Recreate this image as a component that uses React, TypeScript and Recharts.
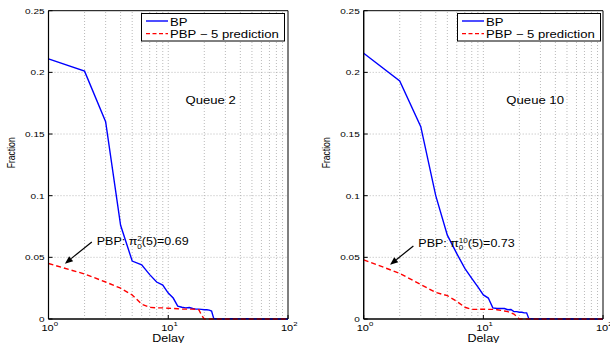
import React from 'react';
import {
  LineChart, Line, XAxis, YAxis, ReferenceLine, ReferenceArea, ReferenceDot, Legend,
} from 'recharts';

// ---------- data ----------
const delays = [1, 2, 3, 4, 5, 6, 7, 8, 9, 10, 11, 12, 13, 14, 15, 16, 17, 18, 19, 20,
  21, 22, 23, 24, 25, 26, 27, 28, 29, 30, 35, 40, 45, 50, 60, 70, 80, 90, 100];

const bpQueue2 = [0.211, 0.201, 0.160, 0.076, 0.047, 0.044, 0.036, 0.030, 0.0275, 0.021,
  0.017, 0.0105, 0.0095, 0.009, 0.0093, 0.0085, 0.008, 0.008, 0.0078, 0.0075,
  0.0075, 0.0072, 0.0065, 0.0003, 0.0002, 0.0001, 0.0002, 0.0001, 0, 0.0001,
  0.0002, 0.0001, 0.0003, 0.0001, 0, 0.0001, 0, 0, 0];

const pbpQueue2 = [0.045, 0.0365, 0.030, 0.025, 0.0195, 0.012, 0.0095, 0.009, 0.009, 0.0087,
  0.0085, 0.0083, 0.008, 0.008, 0.008, 0.008, 0.0078, 0.0075, 0.003, 0,
  0, 0, 0, 0, 0, 0, 0, 0, 0, 0,
  0, 0, 0, 0, 0, 0, 0, 0, 0];

const bpQueue10 = [0.2155, 0.193, 0.156, 0.100, 0.068, 0.053, 0.041, 0.033, 0.026, 0.0195,
  0.017, 0.009, 0.0085, 0.0085, 0.0085, 0.0075, 0.0077, 0.006, 0.006, 0.0055,
  0.0055, 0.005, 0.005, 0.0003, 0.0002, 0.0001, 0.0002, 0, 0.0001, 0,
  0.0002, 0.0001, 0, 0.0002, 0, 0.0001, 0, 0, 0];

const pbpQueue10 = [0.048, 0.037, 0.028, 0.0215, 0.019, 0.0143, 0.0095, 0.0078, 0.0078, 0.008,
  0.0078, 0.0078, 0.0075, 0.007, 0.0065, 0.006, 0.005, 0.004, 0.002, 0,
  0, 0, 0, 0, 0, 0, 0, 0, 0, 0,
  0, 0, 0, 0, 0, 0, 0, 0, 0];

const seriesNames = ['BP', 'PBP \u2212 5 prediction'];
const xTicks = [1, 10, 100];
const xTickExponents = ['0', '1', '2'];
const yTicks = [0, 0.05, 0.1, 0.15, 0.2, 0.25];
const yTickLabels = ['0', '0.05', '0.1', '0.15', '0.2', '0.25'];
const xGrid = [2, 3, 4, 5, 6, 7, 8, 9, 10, 20, 30, 40, 50, 60, 70, 80, 90];
const yGrid = [0.05, 0.1, 0.15, 0.2];

const panels = [
  {
    bp: bpQueue2, pbp: pbpQueue2, queue: 'Queue 2', queuePos: { x: 22.6, y: 0.1745 },
    sup: '2', value: '0.69', textPos: { x: 2.53, y: 0.0598 },
    arrowFrom: { x: 2.30, y: 0.0624 }, arrowTo: { x: 1.37, y: 0.0449 },
    marginLeft: 3.5, marginRight: 17, legendLeft: 141,
  },
  {
    bp: bpQueue10, pbp: pbpQueue10, queue: 'Queue 10', queuePos: { x: 27.1, y: 0.1745 },
    sup: '10', value: '0.73', textPos: { x: 2.86, y: 0.0584 },
    arrowFrom: { x: 2.60, y: 0.0592 }, arrowTo: { x: 1.66, y: 0.044 },
    marginLeft: 13.7, marginRight: 7, legendLeft: 151.7,
  },
];

// ---------- style ----------
const FONT = '"Liberation Sans", Arial, Helvetica, sans-serif';
const SX = 1.25;
const BLUE = '#0000FF';
const RED = '#FF0000';
const GRID = '#a8a8a8';

const StretchText = ({ x, y, anchor = 'start', size, children, weight }: any) => (
  <text
    transform={`translate(${x},${y}) scale(${SX},1)`}
    x={0}
    y={0}
    textAnchor={anchor}
    fontSize={size}
    fontFamily={FONT}
    fontWeight={weight}
    fill="#000"
  >
    {children}
  </text>
);

const YTick = ({ x, y, payload, index }: any) => (
  <g>
    <line x1={x} x2={x + 4} y1={y} y2={y} stroke="#000" strokeWidth={1} />
    <StretchText x={x - 4} y={y + 2.9} anchor="end" size={8}>
      {yTickLabels[index] ?? String(payload.value)}
    </StretchText>
  </g>
);

const XTick = ({ x, y, index }: any) => (
  <g>
    <line x1={x} x2={x} y1={y} y2={y - 4} stroke="#000" strokeWidth={1} />
    <StretchText x={x - 7} y={y + 11.5} size={8.8}>
      10
      <tspan dy={-4.5} fontSize={6.2}>{xTickExponents[index]}</tspan>
    </StretchText>
  </g>
);

const makeLegend = (dash: string[]) => (props: any) => {
  const payload = props.payload || [];
  return (
    <svg width={144} height={29} style={{ display: 'block', overflow: 'visible' }}>
      <rect x={0.5} y={0.5} width={143} height={27.5} fill="#fff" stroke="#000" strokeWidth={1} />
      {payload.map((p: any, i: number) => (
        <g key={i}>
          <line x1={5} x2={27} y1={8 + i * 12.6} y2={8 + i * 12.6} stroke={p.color}
            strokeWidth={1.4} strokeDasharray={dash[i]} />
          <StretchText x={29} y={13.3 + i * 11.3} size={10.5}>{p.value}</StretchText>
        </g>
      ))}
    </svg>
  );
};

const Arrow = (p: any) => {
  const { x1, y1, x2, y2 } = p;
  const ang = Math.atan2(y2 - y1, x2 - x1);
  const L = 8, W = 3.2;
  const bx = x2 - L * Math.cos(ang), by = y2 - L * Math.sin(ang);
  const nx = -Math.sin(ang), ny = Math.cos(ang);
  return (
    <g>
      <line x1={x1} y1={y1} x2={bx} y2={by} stroke="#000" strokeWidth={1.2} />
      <polygon points={`${x2},${y2} ${bx + nx * W},${by + ny * W} ${bx - nx * W},${by - ny * W}`} fill="#000" />
    </g>
  );
};

const Panel = ({ cfg }: any) => {
  const data = delays.map((d, i) => ({ delay: d, bp: cfg.bp[i], pbp: cfg.pbp[i] }));
  const supW = cfg.sup.length * 0.556 * 6.5;
  return (
    <LineChart
      width={305}
      height={343}
      data={data}
      margin={{ top: 10.7, right: cfg.marginRight, bottom: 0, left: cfg.marginLeft }}
    >
      {xGrid.map((v) => (
        <ReferenceLine key={'gx' + v} x={v} stroke={GRID} strokeWidth={0.8} strokeDasharray="1 2" />
      ))}
      {yGrid.map((v) => (
        <ReferenceLine key={'gy' + v} y={v} stroke={GRID} strokeWidth={0.8} strokeDasharray="1 2" />
      ))}
      <XAxis
        dataKey="delay"
        type="number"
        scale="log"
        domain={[1, 100]}
        ticks={xTicks}
        allowDataOverflow
        height={24}
        tickSize={0}
        tickMargin={0}
        tickLine={false}
        tick={<XTick />}
        axisLine={{ stroke: '#000', strokeWidth: 1.2 }}
        interval={0}
        label={{
          content: ({ viewBox }: any) => (
            <StretchText x={viewBox.x + viewBox.width / 2} y={viewBox.y + 23} anchor="middle" size={10}>
              Delay
            </StretchText>
          ),
        }}
      />
      <YAxis
        type="number"
        domain={[0, 0.25]}
        ticks={yTicks}
        width={45}
        tickSize={0}
        tickMargin={0}
        tickLine={false}
        tick={<YTick />}
        axisLine={{ stroke: '#000', strokeWidth: 1.2 }}
        interval={0}
        label={{
          content: ({ viewBox }: any) => (
            <text
              transform={`translate(${viewBox.x + 11.5},${viewBox.y + viewBox.height / 2 - 12}) rotate(-90) scale(1,${SX})`}
              textAnchor="middle"
              fontSize={8.6}
              fontFamily={FONT}
              fill="#000"
            >
              Fraction
            </text>
          ),
        }}
      />
      <ReferenceArea x1={1} x2={100} y1={0} y2={0.25} fill="none" stroke="#000" strokeWidth={1} ifOverflow="visible" />
      <Line dataKey="bp" name={seriesNames[0]} stroke={BLUE} strokeWidth={1.4} dot={false}
        isAnimationActive={false} type="linear" />
      <Line dataKey="pbp" name={seriesNames[1]} stroke={RED} strokeWidth={1.4} strokeDasharray="5 3"
        dot={false} isAnimationActive={false} type="linear" />
      <ReferenceDot
        x={cfg.queuePos.x}
        y={cfg.queuePos.y}
        ifOverflow="visible"
        shape={(p: any) => (
          <StretchText x={p.cx} y={p.cy} anchor="middle" size={10.5}>{cfg.queue}</StretchText>
        )}
      />
      <ReferenceDot
        x={cfg.textPos.x}
        y={cfg.textPos.y}
        ifOverflow="visible"
        shape={(p: any) => (
          <StretchText x={p.cx} y={p.cy} size={10}>
            PBP: {'\u03C0'}
            <tspan dy={-4} fontSize={6.5}>{cfg.sup}</tspan>
            <tspan dx={-supW} dy={7.5} fontSize={6.5}>0</tspan>
            <tspan dx={cfg.sup.length > 1 ? supW - 0.556 * 6.5 : 0} dy={-3.5} fontSize={10}>(5)={cfg.value}</tspan>
          </StretchText>
        )}
      />
      <ReferenceLine
        segment={[cfg.arrowFrom, cfg.arrowTo]}
        ifOverflow="visible"
        stroke="#000"
        shape={(p: any) => <Arrow {...p} />}
      />
      <Legend
        layout="vertical"
        align="center"
        verticalAlign="middle"
        content={makeLegend(['', '4 2.5'])}
        wrapperStyle={{ position: 'absolute', left: cfg.legendLeft, top: 12.7, width: 144, height: 29 }}
      />
    </LineChart>
  );
};

export default function App() {
  return (
    <div style={{ position: 'absolute', left: 0, top: 0, width: 610, height: 343, background: '#fff', display: 'flex' }}>
      {panels.map((cfg, i) => (
        <div key={i} style={{ width: 305, height: 343 }}>
          <Panel cfg={cfg} />
        </div>
      ))}
    </div>
  );
}
